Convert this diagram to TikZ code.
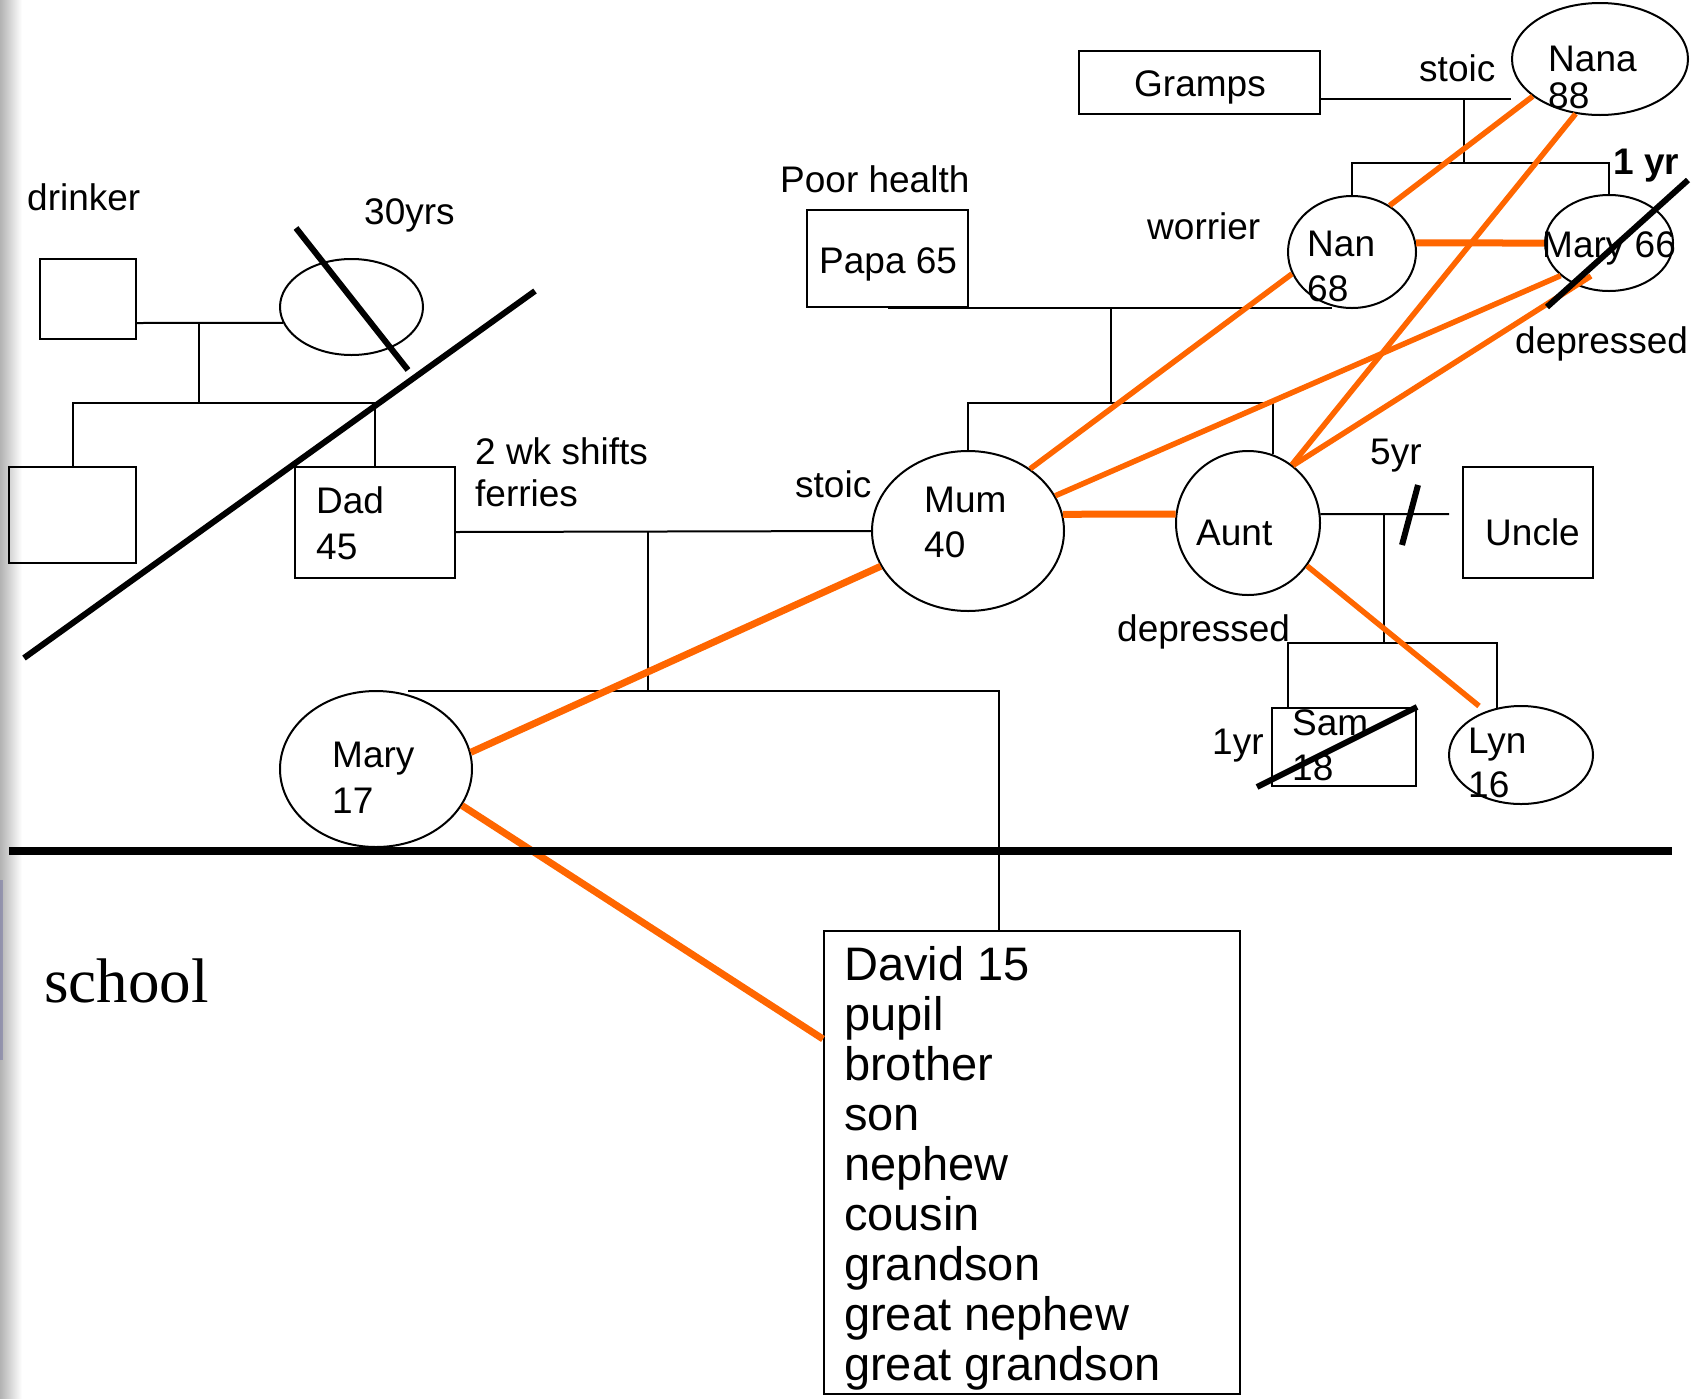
\documentclass[tikz,border=0pt]{standalone}
\usepackage{fontspec}
\setmainfont{Liberation Sans}
\newfontfamily\timesfont{Liberation Serif}
\usepackage{tikz}
\usetikzlibrary{shapes}
\usetikzlibrary{calc}
\definecolor{tieorange}{RGB}{255,102,0}
\tikzstyle{male}=[draw, line width=2pt, rectangle, inner sep=0pt]
\tikzstyle{female}=[draw, line width=2pt, ellipse, inner sep=0pt]
\tikzstyle{pline}=[line width=2pt]
\tikzstyle{tie}=[line width=5.5pt, tieorange]
\tikzstyle{heavytie}=[line width=7pt, tieorange]
\tikzstyle{strike}=[line width=6pt, black]
\tikzstyle{lbl}=[inner sep=0pt, anchor=base west, font=\fontsize{37}{45}\selectfont]
\tikzstyle{twoline}=[inner sep=0pt, anchor=north west, align=left]
\newcommand{\bigsize}{\fontsize{37}{45}\selectfont}

\begin{document}
\begin{tikzpicture}[x=1pt,y=-1pt]
	\fill[white] (0,0) rectangle (1708,1398);
	\useasboundingbox (0,0) rectangle (1708,1398);
	\shade[left color=gray!60, right color=white] (0,0) rectangle (22,1398);
	\fill[blue!25!gray, opacity=0.4] (0,880) rectangle (3,1060);
	% people
	\node[male, minimum width=96pt, minimum height=80pt] (gdad) at (88,299) {};
	\node[female, minimum width=143pt, minimum height=96pt] (gmum) at (351.5,307) {};
	\node[male, minimum width=127pt, minimum height=96pt] (uncL) at (72.5,515) {};
	\node[male, minimum width=160pt, minimum height=111pt] (dad) at (375,522.5) {};
	\node[male, minimum width=161pt, minimum height=97pt] (papa) at (887.5,258.5) {};
	\node[male, minimum width=241pt, minimum height=63pt] (gramps) at (1199.5,82.5) {};
	\node[female, minimum width=176pt, minimum height=112pt] (nana) at (1600,59) {};
	\node[female, minimum width=128pt, minimum height=112pt] (nan) at (1352,252) {};
	\node[female, minimum width=128pt, minimum height=96pt] (aunty) at (1609,243) {};
	\node[female, minimum width=192pt, minimum height=160pt] (mum) at (968,531) {};
	\node[female, minimum width=144pt, minimum height=144pt] (aunt) at (1248,523) {};
	\node[male, minimum width=130pt, minimum height=111pt] (uncle) at (1528,522.5) {};
	\node[male, minimum width=144pt, minimum height=78pt] (sam) at (1344,747) {};
	\node[female, minimum width=144pt, minimum height=98pt] (lyn) at (1521,755) {};
	\node[female, minimum width=192pt, minimum height=156pt] (mary) at (376,769) {};
	\node[male, minimum width=416pt, minimum height=463pt] (david) at (1032,1162.5) {};

	% labels
	\node[lbl] (drinkerT) at (27,210) {drinker};
	\node[lbl] (yrsT) at (364,224) {30yrs};
	\node[lbl] (poorT) at (780,192) {Poor health};
	\node[lbl] (papaT) at (819,273) {Papa 65};
	\node[lbl] (worrierT) at (1147,239) {worrier};
	\node[lbl] (grampsT) at (1134,96) {Gramps};
	\node[lbl] (stoicT) at (1419,81) {stoic};
	\node[lbl, font=\bfseries\bigsize] (oneyrT) at (1613,174) {1 yr};
	\node[lbl] (maryoldT) at (1542,257) {Mary 66};
	\node[lbl] (deprT) at (1515,353) {depressed};
	\node[lbl] (stoicmT) at (795,497) {stoic};
	\node[lbl] (auntT) at (1196,545) {Aunt};
	\node[lbl] (fiveT) at (1370,464) {5yr};
	\node[lbl] (uncleT) at (1485,545) {Uncle};
	\node[lbl] (deprmT) at (1117,641) {depressed};
	\node[lbl] (oneyrsT) at (1212,754) {1yr};
	\node[lbl, font=\timesfont\fontsize{63}{70}\selectfont] (schoolT) at (44,1002) {school};
	\node[twoline, font=\fontsize{37}{37}\selectfont] (nanaT) at (1548,45.5) {Nana\\88};
	\node[twoline, font=\fontsize{37}{45}\selectfont] (nanT) at (1307,230.5) {Nan\\68};
	\node[twoline, font=\fontsize{37}{46}\selectfont] (dadT) at (316,486.5) {Dad\\45};
	\node[twoline, font=\fontsize{37}{42}\selectfont] (shiftT) at (475,437.5) {2 wk shifts\\ferries};
	\node[twoline, font=\fontsize{37}{45}\selectfont] (mumT) at (924,486.5) {Mum\\40};
	\node[twoline, font=\fontsize{37}{45}\selectfont] (samT) at (1292,709.5) {Sam\\18};
	\node[twoline, font=\fontsize{37}{44}\selectfont] (lynT) at (1468,727.5) {Lyn\\16};
	\node[twoline, font=\fontsize{37}{46}\selectfont] (maryT) at (332,741.5) {Mary\\17};
	\node[twoline, font=\fontsize{47}{50}\selectfont] (davidT) at (844,946.3) {David 15\\pupil\\brother\\son\\nephew\\cousin\\grandson\\great nephew\\great grandson};

	% family lines
	\coordinate (lj) at (199,323);
	\draw[pline] (gdad.east |- lj) -- (gmum.193);
	\draw[pline] (lj) -- ++(0,80) coordinate (ls);
	\draw[pline] (uncL.north) |- (ls) -| (dad.north);
	\coordinate (pj) at (648,532);
	\coordinate (kl) at (408,691);
	\coordinate (kr) at (999,691);
	\draw[pline] (dad.east |- pj) -- (mum.west);
	\draw[pline] (pj) -- (pj |- kl);
	\draw[pline] (kl) -- (kr) -- (kr |- david.north);
	\coordinate (nj) at (1111,307);
	\draw[pline] (papa.south) -- (papa.south -| nan.250);
	\draw[pline] (nj) -- ++(0,96) coordinate (ns);
	\draw[pline] (mum.north) |- (ns) -| (aunt.70);
	\coordinate (gj) at (1464,99);
	\draw[pline] (gramps.east |- gj) -- (nana.west |- gj);
	\draw[pline] (gj) -- ++(0,64) coordinate (gs);
	\draw[pline] (nan.north) |- (gs) -| (aunty.north);
	\coordinate (uj) at (1384,514);
	\coordinate (ue) at (1449,514);
	\draw[pline] (aunt.7) -- (ue);
	\draw[pline] (uj) -- ++(0,129) coordinate (us);
	\draw[pline] ($(sam.north west)+(17,0)$) |- (us) -| (lyn.117);

	% close ties
	\draw[tie] (nana.209) -- (nan.51);
	\draw[tie] (nana.246) -- (aunt.53);
	\draw[heavytie] (nan.8) -- (aunty.west);
	\draw[tie] (nan.200) -- (mum.45);
	\draw[tie] (aunty.214) -- (mum.22);
	\draw[tie] ($(aunty.center)+(-18,33)$) -- (aunt.52);
	\draw[heavytie] (mum.10) -- (aunt.173);
	\draw[tie] (aunt.324) -- ($(lyn.center)+(-42,-49)$);
	\draw[heavytie] (mum.202) -- (mary.10);
	\draw[heavytie] (mary.337) -- ($(david.north west)+(0,109)$);

	% crossings out
	\draw[strike] (535,291) -- (24,658);
	\draw[strike] (296,228) -- (408,370);
	\draw[strike] (1688,180) -- (1547,307);
	\draw[strike] (sam.north east) -- ($(sam.south west)+(-14,0)$);
	\draw[strike] (1418,485) -- (1402,545);
	\draw[line width=7.5pt] (9,851) -- (1672,851);
\end{tikzpicture}
\end{document}
